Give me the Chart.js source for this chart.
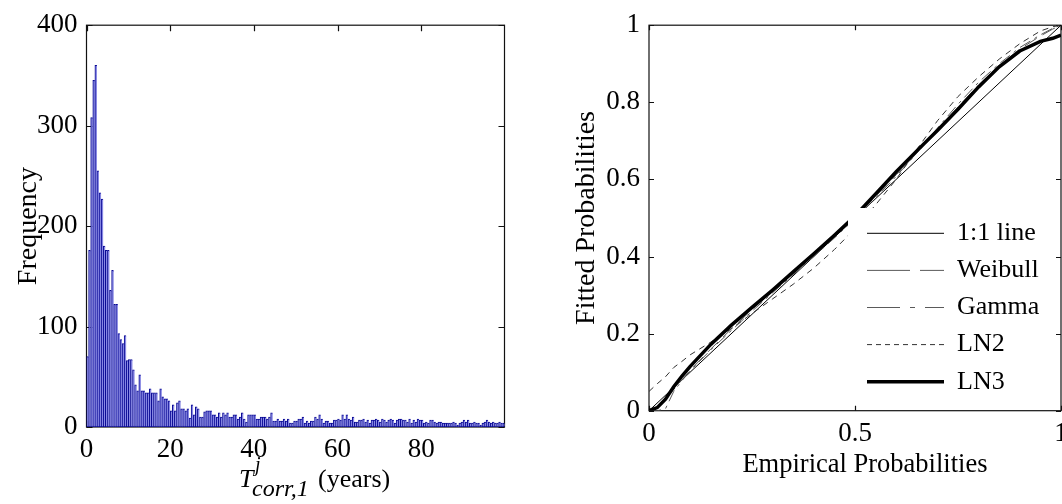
<!DOCTYPE html>
<html>
<head>
<meta charset="utf-8">
<script src="https://cdn.jsdelivr.net/npm/chart.js@4/dist/chart.umd.min.js"></script>
<style>
html, body { margin: 0; padding: 0; background: #fff; overflow: hidden; width: 1062px; height: 504px; }
#left { position: absolute; left: 0; top: 0; width: 530px; height: 504px; }
#right { position: absolute; left: 530px; top: 0; width: 560px; height: 504px; }
</style>
</head>
<body>
<div id="left"><canvas id="histChart"></canvas></div>
<div id="right"><canvas id="ppChart"></canvas></div>
<script>
// histogram of T_corr,1 : 0.5 year bins starting at 0
const BIN_START = 0;
const BIN_WIDTH = 0.5;
const HIST_COUNTS = [
  70, 176, 308, 345, 360, 255, 233, 227, 180, 176,
  176, 136, 156, 122, 122, 93, 87, 83, 91, 66,
  67, 67, 57, 42, 36, 52, 36, 36, 34, 34,
  38, 34, 34, 34, 26, 38, 30, 28, 28, 26,
  16, 22, 16, 24, 26, 18, 18, 16, 18, 9,
  22, 12, 20, 18, 10, 10, 15, 16, 16, 16,
  12, 12, 10, 14, 10, 14, 12, 14, 10, 10,
  12, 12, 8, 10, 14, 8, 5, 12, 12, 12,
  12, 8, 8, 10, 10, 10, 8, 10, 14, 6,
  6, 8, 6, 6, 8, 6, 8, 4, 4, 6,
  6, 8, 8, 10, 4, 6, 4, 6, 6, 10,
  8, 12, 8, 4, 6, 6, 4, 4, 7, 7,
  8, 7, 12, 8, 12, 8, 7, 10, 5, 5,
  7, 7, 8, 5, 7, 4, 7, 7, 8, 7,
  5, 8, 7, 5, 7, 8, 7, 4, 7, 8,
  8, 7, 7, 5, 8, 4, 7, 5, 8, 7,
  7, 4, 5, 4, 7, 7, 5, 4, 5, 5,
  4, 4, 4, 4, 4, 5, 4, 2, 4, 5,
  7, 5, 7, 4, 4, 5, 4, 4, 2, 4,
  5, 7, 5, 4, 5, 4, 4, 5, 4, 4
];
const HIST_X_TICKS = [0, 20, 40, 60, 80];
const HIST_Y_TICKS = [0, 100, 200, 300, 400];

// P-P plot
const EMP_P = [0, 0.02, 0.04, 0.06, 0.08, 0.10, 0.15, 0.20, 0.25, 0.30, 0.35, 0.40, 0.45,
  0.50, 0.55, 0.60, 0.65, 0.70, 0.75, 0.80, 0.85, 0.90, 0.95, 0.98, 1.0];
const WEIBULL_P = [0, 0.01, 0.03, 0.055, 0.08, 0.105, 0.16, 0.212, 0.262, 0.31, 0.357, 0.405, 0.452,
  0.502, 0.556, 0.612, 0.668, 0.728, 0.788, 0.845, 0.895, 0.938, 0.972, 0.99, 1.0];
const GAMMA_P = [0, 0, 0.005, 0.05, 0.078, 0.103, 0.158, 0.208, 0.258, 0.306, 0.353, 0.40, 0.448,
  0.498, 0.552, 0.608, 0.668, 0.733, 0.795, 0.852, 0.9, 0.942, 0.975, 0.992, 1.0];
const LN2_P = [0.05, 0.07, 0.088, 0.112, 0.128, 0.145, 0.178, 0.213, 0.252, 0.29, 0.328, 0.37, 0.418,
  0.472, 0.534, 0.60, 0.678, 0.752, 0.815, 0.866, 0.912, 0.952, 0.985, 0.996, 1.0];
const LN3_P = [0, 0.008, 0.03, 0.062, 0.09, 0.115, 0.172, 0.222, 0.268, 0.313, 0.36, 0.407, 0.455,
  0.505, 0.562, 0.62, 0.674, 0.727, 0.782, 0.84, 0.892, 0.933, 0.958, 0.966, 0.974];
const ONE_TO_ONE = [0, 1];
const PP_TICKS_X = [0, 0.5, 1];
const PP_TICKS_Y = [0, 0.2, 0.4, 0.6, 0.8, 1];

const SERIF = '"Liberation Serif", "Times New Roman", serif';
Chart.defaults.font.family = SERIF;
Chart.defaults.font.size = 27;
Chart.defaults.color = '#000';

function toPoints(xs, ys) {
  return xs.map((x, i) => ({ x: x, y: ys[i] }));
}

// box round the axes with ticks pointing in, drawn under the data like matlab
const framePlugin = {
  id: 'frame',
  beforeDatasetsDraw(chart, args, opts) {
    const { ctx, chartArea: a, scales: { x, y } } = chart;
    const len = opts.tickLength || 5;
    ctx.save();
    ctx.strokeStyle = '#111';
    ctx.lineWidth = 1.2;
    ctx.strokeRect(a.left, a.top, a.right - a.left, a.bottom - a.top);
    ctx.beginPath();
    x.ticks.forEach(t => {
      const px = Math.round(x.getPixelForValue(t.value)) + 0.5;
      ctx.moveTo(px, a.bottom); ctx.lineTo(px, a.bottom - len);
      ctx.moveTo(px, a.top); ctx.lineTo(px, a.top + len);
    });
    y.ticks.forEach(t => {
      const py = Math.round(y.getPixelForValue(t.value)) + 0.5;
      ctx.moveTo(a.left, py); ctx.lineTo(a.left + len, py);
      ctx.moveTo(a.right, py); ctx.lineTo(a.right - len, py);
    });
    ctx.stroke();
    ctx.restore();
  }
};

// x label with super/subscripts for the histogram
const histXLabel = {
  id: 'histXLabel',
  afterDraw(chart, args, opts) {
    const ctx = chart.ctx;
    ctx.save();
    ctx.fillStyle = '#000';
    ctx.textBaseline = 'alphabetic';
    ctx.textAlign = 'left';
    opts.parts.forEach(p => {
      ctx.font = p.font;
      ctx.fillText(p.text, p.x, p.y);
    });
    ctx.restore();
  }
};

// legend with a white box, drawn over the lines
const ppLegend = {
  id: 'ppLegend',
  afterDatasetsDraw(chart, args, opts) {
    const ctx = chart.ctx;
    ctx.save();
    ctx.fillStyle = '#fff';
    ctx.fillRect(opts.box.x, opts.box.y, opts.box.w, opts.box.h);
    chart.data.datasets.forEach((ds, i) => {
      const y = opts.firstRow + i * opts.rowGap;
      ctx.beginPath();
      ctx.setLineDash(ds.legendDash || []);
      ctx.lineWidth = ds.borderWidth;
      ctx.strokeStyle = ds.borderColor;
      ctx.moveTo(opts.lineX0, y);
      ctx.lineTo(opts.lineX1, y);
      ctx.stroke();
      ctx.setLineDash([]);
      ctx.fillStyle = '#000';
      ctx.font = '26px ' + SERIF;
      ctx.textBaseline = 'middle';
      ctx.fillText(ds.label, opts.textX, y);
    });
    ctx.restore();
  }
};

const plainLabel = v => String(v);

new Chart(document.getElementById('histChart'), {
  type: 'bar',
  data: {
    datasets: [{
      data: HIST_COUNTS.map((c, i) => ({ x: BIN_START + (i + 0.5) * BIN_WIDTH, y: c })),
      backgroundColor: '#8888e4',
      borderColor: '#0a0a94',
      borderWidth: { left: 1, top: 1, right: 0, bottom: 1 },
      borderSkipped: false,
      barPercentage: 1,
      categoryPercentage: 1
    }]
  },
  options: {
    animation: false,
    responsive: true,
    maintainAspectRatio: false,
    devicePixelRatio: 1,
    layout: { padding: { left: 0, top: 22.7, right: 25.5, bottom: 0 } },
    plugins: {
      legend: { display: false },
      tooltip: { enabled: false },
      frame: { tickLength: 6 },
      histXLabel: {
        parts: [
          { text: 'T', font: 'italic 26px ' + SERIF, x: 239, y: 487 },
          { text: 'j', font: 'italic 20px ' + SERIF, x: 255, y: 471 },
          { text: 'corr,1', font: 'italic 24px ' + SERIF, x: 252, y: 496 },
          { text: '(years)', font: '26px ' + SERIF, x: 318, y: 487 }
        ]
      }
    },
    scales: {
      x: {
        type: 'linear', min: 0, max: 99.9, offset: false,
        grid: { display: false, drawTicks: false, offset: false },
        border: { display: false },
        afterBuildTicks: s => { s.ticks = HIST_X_TICKS.map(v => ({ value: v })); },
        ticks: { padding: 7, maxRotation: 0, autoSkip: false, callback: plainLabel },
        afterFit: s => { s.height = 77; }
      },
      y: {
        min: 0, max: 400,
        grid: { display: false, drawTicks: false },
        border: { display: false },
        afterBuildTicks: s => { s.ticks = HIST_Y_TICKS.map(v => ({ value: v })); },
        ticks: { padding: 9, callback: plainLabel },
        title: { display: true, text: 'Frequency', font: { size: 28 }, padding: { top: 12, bottom: 0 } },
        afterFit: s => { s.width = 86.5; }
      }
    }
  },
  plugins: [framePlugin, histXLabel]
});

new Chart(document.getElementById('ppChart'), {
  type: 'scatter',
  data: {
    datasets: [
      { label: '1:1 line', data: toPoints(ONE_TO_ONE, ONE_TO_ONE), borderColor: '#000', borderWidth: 1, borderDash: [], legendDash: [], order: 4 },
      { label: 'Weibull', data: toPoints(EMP_P, WEIBULL_P), borderColor: '#5a5a5a', borderWidth: 1, borderDash: [14, 7], legendDash: [43, 10], order: 3 },
      { label: 'Gamma', data: toPoints(EMP_P, GAMMA_P), borderColor: '#5a5a5a', borderWidth: 1, borderDash: [12, 5, 3, 5], legendDash: [33, 10, 5, 10], order: 2 },
      { label: 'LN2', data: toPoints(EMP_P, LN2_P), borderColor: '#333', borderWidth: 1, borderDash: [6, 5], legendDash: [5, 4], order: 1 },
      { label: 'LN3', data: toPoints(EMP_P, LN3_P), borderColor: '#000', borderWidth: 3.5, borderDash: [], legendDash: [], order: 0 }
    ].map(ds => Object.assign(ds, { showLine: true, pointRadius: 0, fill: false, tension: 0 }))
  },
  options: {
    animation: false,
    responsive: true,
    maintainAspectRatio: false,
    devicePixelRatio: 1,
    layout: { padding: { left: 0, top: 14.7, right: 29, bottom: 0 } },
    plugins: {
      legend: { display: false },
      tooltip: { enabled: false },
      frame: { tickLength: 5 },
      ppLegend: {
        box: { x: 318, y: 208, w: 208, h: 197 },
        lineX0: 337, lineX1: 414, textX: 427,
        firstRow: 233.3, rowGap: 37.1
      }
    },
    scales: {
      x: {
        type: 'linear', min: 0, max: 1,
        grid: { display: false, drawTicks: false },
        border: { display: false },
        afterBuildTicks: s => { s.ticks = PP_TICKS_X.map(v => ({ value: v })); },
        ticks: { padding: 7, maxRotation: 0, autoSkip: false, callback: plainLabel },
        title: { display: true, text: '   Empirical Probabilities', font: { size: 26.5 }, padding: { top: 0, bottom: 23 } },
        afterFit: s => { s.height = 93.3; }
      },
      y: {
        min: 0, max: 1,
        grid: { display: false, drawTicks: false },
        border: { display: false },
        afterBuildTicks: s => { s.ticks = PP_TICKS_Y.map(v => ({ value: v })); },
        ticks: { padding: 9, callback: plainLabel },
        title: { display: true, text: 'Fitted Probabilities', font: { size: 28 }, padding: { top: 40, bottom: 0 } },
        afterFit: s => { s.width = 119; }
      }
    }
  },
  plugins: [framePlugin, ppLegend]
});
</script>
</body>
</html>
